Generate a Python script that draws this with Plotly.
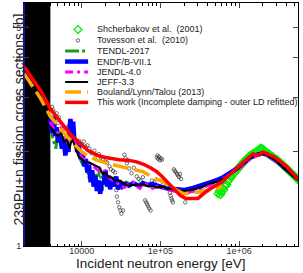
import plotly.graph_objects as go
import math

# ---------------- data ----------------
shch_E = [5.4e5, 5.6e5, 5.8e5, 6.0e5, 6.2e5, 6.4e5, 6.6e5, 6.8e5, 7.0e5, 7.2e5, 7.5e5, 7.8e5, 8.1e5, 8.4e5,
          8.7e5, 9.0e5, 9.4e5, 9.8e5, 1.02e6, 1.06e6, 1.10e6, 1.14e6, 1.18e6, 1.23e6, 1.28e6, 1.33e6, 1.38e6,
          1.44e6, 1.50e6, 1.56e6, 1.62e6, 1.68e6, 1.75e6, 1.82e6, 1.88e6, 1.95e6, 2.02e6, 2.09e6, 2.16e6,
          2.24e6, 2.32e6, 2.41e6, 2.50e6, 2.60e6, 2.70e6, 2.80e6, 2.92e6, 3.04e6, 3.16e6, 3.29e6, 3.42e6,
          3.56e6, 3.70e6, 3.85e6, 4.00e6, 4.16e6, 4.33e6, 4.50e6, 4.68e6, 4.87e6, 5.06e6, 5.26e6, 5.47e6, 5.6e6]
shch_S = [1.47, 1.50, 1.46, 1.49, 1.53, 1.51, 1.56, 1.58, 1.57, 1.61, 1.63, 1.66, 1.67, 1.70,
          1.71, 1.73, 1.75, 1.78, 1.79, 1.82, 1.83, 1.86, 1.87, 1.90, 1.91, 1.93, 1.95,
          1.96, 1.98, 1.97, 2.00, 2.01, 2.03, 2.04, 2.06, 2.05, 2.04, 2.02, 2.01,
          1.99, 1.98, 1.97, 1.95, 1.94, 1.93, 1.91, 1.90, 1.89, 1.87, 1.86, 1.84,
          1.82, 1.81, 1.79, 1.77, 1.76, 1.74, 1.72, 1.71, 1.69, 1.68, 1.66, 1.64, 1.63]

tov_E = [4200, 4350, 4500, 4650, 4800, 5000, 5150, 5500, 5700, 6100, 6600, 7200, 7700, 8000, 8600, 9300,
         10000, 10600, 11200, 11800, 12500, 13000, 13500, 14500, 15200, 16500, 17500, 18500, 20000, 21000,
         22500, 23500, 25000, 26500, 27500, 28000, 29000, 30000, 31000, 32000, 33500, 35000, 36000, 37500,
         38500, 40000, 43000, 46000, 50000, 53000, 56000, 60000, 64000, 66000, 68000, 70000, 72000, 75000,
         78000, 84000, 90000, 92000, 94000, 96000, 99000, 102000, 105000, 108000, 112000, 118000, 124000,
         132000, 135000, 138000, 141000, 144000, 148000, 153000, 158000, 163000, 168000, 173000, 178000,
         183000, 190000, 207000, 215000, 225000, 240000, 260000, 280000, 300000, 320000, 350000, 380000,
         420000, 460000]
tov_S = [2.79, 2.72, 2.62, 2.56, 2.66, 2.48, 2.58, 2.35, 2.42, 2.38, 2.40, 2.30, 2.25, 2.20, 2.15, 2.17,
         2.12, 2.16, 2.08, 2.10, 2.05, 2.00, 1.98, 2.02, 1.95, 1.97, 1.92, 1.90, 1.86, 1.85,
         1.80, 1.76, 1.74, 1.72, 1.51, 1.44, 1.38, 1.33, 1.30, 1.27, 1.30, 1.96, 1.91, 1.84,
         1.88, 1.77, 1.71, 1.78, 1.67, 1.64, 1.62, 1.66, 1.40, 1.38, 1.36, 1.34, 1.32, 1.30,
         1.62, 1.60, 1.92, 1.95, 1.90, 1.93, 1.88, 1.91, 1.89, 1.58, 1.62, 1.57, 1.55,
         1.48, 1.45, 1.42, 1.40, 1.38, 1.76, 1.74, 1.72, 1.70, 1.68, 1.66, 1.70,
         1.64, 1.50, 1.38, 1.52, 1.49, 1.53, 1.50, 1.54, 1.51, 1.55, 1.54, 1.57,
         1.56, 1.59]

tendl_E = [4000, 4300, 4700, 5000, 5400, 5800, 6200, 6700, 7200, 7700, 8200, 8800, 9500, 10000, 10700,
           11500, 12300, 13200, 14100, 15000, 16000, 17000, 18200, 19500, 21000, 22500, 24000, 26000,
           28000, 30000, 33000, 37000, 42000, 50000, 60000, 75000, 1e5, 1.3e5, 1.7e5, 2.2e5, 3e5, 4e5,
           5e5, 6e5, 7e5, 8.5e5, 1e6, 1.2e6, 1.4e6, 1.7e6, 2e6, 2.3e6, 2.7e6, 3.2e6, 3.8e6, 4.5e6, 5.6e6]
tendl_S = [2.45, 2.2, 2.05, 2.35, 2.1, 2.25, 2.05, 2.3, 2.2, 2.35, 2.1, 2.0, 1.9, 1.85, 1.8,
           1.9, 1.65, 1.75, 1.55, 1.7, 1.6, 1.78, 1.5, 1.72, 1.62, 1.68, 1.58, 1.66,
           1.6, 1.64, 1.58, 1.6, 1.57, 1.58, 1.57, 1.56, 1.54, 1.52, 1.51, 1.52, 1.54, 1.58,
           1.61, 1.65, 1.68, 1.73, 1.79, 1.86, 1.92, 1.96, 1.99, 1.96, 1.91, 1.85, 1.79, 1.72, 1.64]

endf_E = [4000, 4200, 4400, 4600, 4800, 5000, 5300, 5600, 5900, 6200, 6500, 6800, 7000, 7200, 7500,
          7800, 8100, 8400, 8800, 9200, 9700, 10200, 10800, 11300, 11800, 12400, 13000, 13600, 14200,
          14900, 15600, 16400, 17200, 18000, 19000, 20000, 21000, 22000, 23000, 24500, 26000, 27500,
          29000, 31000, 33000, 36000, 40000, 45000, 50000, 55000, 60000, 70000, 80000, 90000, 1e5,
          1.2e5, 1.5e5, 2e5, 2.5e5, 3e5, 4e5, 5e5, 6e5, 7e5, 8.5e5, 1e6, 1.2e6, 1.4e6, 1.7e6, 2e6,
          2.3e6, 2.7e6, 3.2e6, 3.8e6, 4.5e6, 5.6e6]
endf_S = [2.55, 2.3, 2.6, 2.25, 2.4, 2.15, 2.3, 2.05, 2.2, 1.95, 2.1, 2.0, 2.4, 2.55, 2.3,
          2.5, 2.15, 2.2, 2.0, 2.1, 1.9, 2.0, 1.8, 1.9, 1.72, 1.82, 1.6, 1.75, 1.55,
          1.68, 1.5, 1.62, 1.47, 1.6, 1.58, 1.75, 1.55, 1.68, 1.52, 1.65, 1.55, 1.67,
          1.52, 1.6, 1.55, 1.58, 1.56, 1.59, 1.57, 1.56, 1.59, 1.57, 1.58, 1.56, 1.55,
          1.53, 1.52, 1.51, 1.53, 1.55, 1.59, 1.62, 1.65, 1.69, 1.74, 1.79, 1.86, 1.92, 1.96, 1.98,
          1.96, 1.91, 1.85, 1.78, 1.72, 1.64]

jendl_E = [4000, 4500, 5000, 5500, 6000, 6500, 7000, 7500, 8000, 9000, 10000, 11000, 12500, 14000,
           16000, 18000, 20000, 22000, 25000, 28000, 31000, 35000, 40000, 45000, 50000, 55000, 62000,
           70000, 80000, 90000, 1e5, 1.2e5, 1.5e5, 1.8e5, 2.2e5, 2.8e5, 3.5e5, 4.5e5, 5.5e5, 7e5,
           8.5e5, 1e6, 1.2e6, 1.4e6, 1.7e6, 2e6, 2.3e6, 2.7e6, 3.2e6, 3.8e6, 4.5e6, 5.6e6]
jendl_S = [2.5, 2.35, 2.3, 2.4, 2.2, 2.25, 2.1, 2.25, 2.2, 2.0, 1.92, 1.88, 1.84, 1.8,
           1.75, 1.72, 1.74, 1.66, 1.62, 1.6, 1.55, 1.54, 1.58, 1.6, 1.55, 1.53, 1.6,
           1.56, 1.53, 1.55, 1.54, 1.52, 1.5, 1.48, 1.48, 1.51, 1.54, 1.58, 1.61, 1.67,
           1.72, 1.77, 1.84, 1.9, 1.95, 1.97, 1.95, 1.9, 1.84, 1.77, 1.71, 1.63]

jeff_E = [4000, 4500, 5000, 5500, 6000, 6500, 7000, 7500, 8200, 9000, 10000, 11000, 12500, 14000,
          15500, 17000, 18500, 20000, 22000, 24000, 26000, 28000, 30000, 33000, 36000, 40000, 45000,
          50000, 55000, 60000, 70000, 80000, 90000, 1e5, 1.2e5, 1.4e5, 1.7e5, 2e5, 2.5e5, 3e5, 3.5e5,
          4e5, 5e5, 6e5, 7e5, 8e5, 9e5, 1e6, 1.2e6, 1.4e6, 1.6e6, 1.8e6, 2e6, 2.2e6, 2.5e6, 3e6,
          3.5e6, 4e6, 4.5e6, 5e6, 5.6e6]
jeff_S = [2.42, 2.3, 2.25, 2.3, 2.15, 2.2, 2.05, 2.2, 2.1, 1.95, 1.9, 1.85, 1.85, 1.82,
          1.8, 1.78, 1.7, 1.72, 1.66, 1.66, 1.62, 1.62, 1.62, 1.6, 1.57, 1.56, 1.57,
          1.57, 1.56, 1.58, 1.55, 1.56, 1.54, 1.55, 1.53, 1.52, 1.5, 1.5, 1.51, 1.53, 1.55,
          1.58, 1.6, 1.63, 1.67, 1.7, 1.74, 1.78, 1.85, 1.92, 1.96, 1.97, 1.98, 1.96, 1.92, 1.87,
          1.8, 1.75, 1.7, 1.67, 1.62]

blt_E = [1850, 2500, 3000, 4000, 5000, 6000, 7000, 8500, 10000, 12500, 16000, 21000, 28000, 40000,
         60000, 80000, 1e5, 1.3e5, 1.6e5, 2e5, 2.6e5, 3.3e5, 4e5, 5e5, 6.1e5]
blt_S = [3.57, 3.2, 2.97, 2.6, 2.42, 2.3, 2.2, 2.08, 2.0, 1.93, 1.88, 1.84, 1.81, 1.78,
         1.73, 1.66, 1.62, 1.56, 1.51, 1.47, 1.48, 1.49, 1.5, 1.52, 1.55]

work_E = [1850, 2500, 3000, 4000, 5000, 6000, 7000, 8000, 10000, 12000, 16000, 20000, 30000, 40000,
          50000, 60000, 75000, 90000, 1.05e5, 1.25e5, 1.5e5, 1.8e5, 2.1e5, 3e5, 4e5, 5e5, 6e5, 7e5,
          8.5e5, 1e6, 1.2e6, 1.5e6, 1.75e6, 2.05e6, 2.4e6, 2.8e6, 3.3e6, 4e6, 4.8e6, 5.6e6]
work_S = [3.76, 3.38, 3.15, 2.75, 2.55, 2.42, 2.3, 2.22, 2.1, 2.02, 1.95, 1.92, 1.89, 1.88,
          1.86, 1.83, 1.78, 1.73, 1.67, 1.6, 1.52, 1.45, 1.42, 1.42, 1.51, 1.56, 1.6, 1.66,
          1.73, 1.8, 1.88, 1.97, 1.95, 2.0, 1.96, 1.93, 1.87, 1.8, 1.71, 1.63]

x_ticks = [1e4, 1e5, 1e6]
x_ticktext = ["10000", "1e+05", "1e+06"]
y_ticks = [1, 2, 3, 4, 5, 6]
black_band_end = 4000

# ---------------- styles ----------------
series = [
    dict(name="Shcherbakov et al.  (2001)", E=shch_E, S=shch_S, mode="markers",
         marker=dict(symbol="diamond-open", size=6, color="#00ee00", line=dict(width=1.3, color="#00ee00"))),
    dict(name="Tovesson et al.  (2010)", E=tov_E, S=tov_S, mode="markers",
         marker=dict(symbol="circle-open", size=3.5, color="#333333", line=dict(width=0.7, color="#333333"))),
    dict(name="TENDL-2017", E=tendl_E, S=tendl_S, mode="lines",
         line=dict(color="#1f9a1f", width=3, dash="14px,3px,3px,3px")),
    dict(name="ENDF/B-VII.1", E=endf_E, S=endf_S, mode="lines",
         line=dict(color="#0000ff", width=4.5)),
    dict(name="JENDL-4.0", E=jendl_E, S=jendl_S, mode="lines",
         line=dict(color="#ff00ff", width=3, dash="8px,4px,3px,4px")),
    dict(name="JEFF-3.3", E=jeff_E, S=jeff_S, mode="lines",
         line=dict(color="#000000", width=2)),
    dict(name="Bouland/Lynn/Talou (2013)", E=blt_E, S=blt_S, mode="lines",
         line=dict(color="#ffa500", width=3.5, dash="16px,6px")),
    dict(name="This work (Incomplete damping - outer LD refitted)", E=work_E, S=work_S, mode="lines",
         line=dict(color="#ff0000", width=3.5)),
]

fig = go.Figure()
for s in series:
    kw = dict(x=s["E"], y=s["S"], mode=s["mode"], name=s["name"], showlegend=False)
    if "marker" in s:
        kw["marker"] = s["marker"]
    if "line" in s:
        kw["line"] = s["line"]
    fig.add_trace(go.Scatter(**kw))

# ---------------- manual compact legend (overlay axes 0..1) ----------------
leg_rows = [0.891, 0.846, 0.802, 0.759, 0.716, 0.675, 0.634, 0.591]
lx0, lx1, lxm, ltx = 0.150, 0.234, 0.197, 0.259
for s, yy in zip(series, leg_rows):
    if s["mode"] == "markers":
        fig.add_trace(go.Scatter(x=[lxm], y=[yy], mode="markers", marker=s["marker"],
                                 xaxis="x2", yaxis="y2", showlegend=False, hoverinfo="skip"))
    else:
        fig.add_trace(go.Scatter(x=[lx0, lx1], y=[yy, yy], mode="lines", line=s["line"],
                                 xaxis="x2", yaxis="y2", showlegend=False, hoverinfo="skip"))
    fig.add_annotation(x=ltx, y=yy, xref="paper", yref="paper", text=s["name"], showarrow=False,
                       xanchor="left", yanchor="middle", font=dict(size=9, color="#222222"))

xr = [3.267, 6.749]
fig.add_shape(type="rect", xref="x", yref="paper", x0=10 ** xr[0], x1=black_band_end, y0=0, y1=1,
              fillcolor="black", line=dict(width=0), layer="below")
fig.add_shape(type="line", xref="paper", yref="paper", x0=0, x1=0, y0=0, y1=1,
              line=dict(color="#2020ff", width=1.2))

fig.add_annotation(x=-0.055, y=0.52, xref="paper", yref="paper", text="239Pu+n fission cross sections [b]",
                   textangle=-90, showarrow=False, font=dict(size=14, color="#222222"))
fig.add_annotation(x=0.5, y=-0.072, xref="paper", yref="paper", text="Incident neutron energy [eV]",
                   showarrow=False, yanchor="middle", font=dict(size=13.5, color="#222222"))

minor_vals = [m * 10 ** d for d in range(3, 7) for m in range(2, 10)]
fig.update_layout(
    width=303, height=273, margin=dict(l=24, r=5, t=3, b=27),
    paper_bgcolor="white", plot_bgcolor="white",
    font=dict(family="Liberation Sans, Arial, sans-serif"),
    xaxis=dict(type="log", range=xr, tickvals=x_ticks, ticktext=x_ticktext, ticks="inside", ticklen=5,
               showline=True, linecolor="black", linewidth=1, mirror="ticks", showgrid=False, zeroline=False,
               automargin=False, ticklabelstandoff=-4, tickfont=dict(size=9, color="#333333"),
               minor=dict(tickvals=minor_vals, ticks="inside", ticklen=2.5, tickcolor="black", showgrid=False)),
    yaxis=dict(type="log", range=[0, math.log10(6)], tickvals=y_ticks, ticks="inside", ticklen=5,
               showline=True, linecolor="black", linewidth=1, mirror="ticks", showgrid=False, zeroline=False,
               automargin=False, tickfont=dict(size=9, color="#333333")),
    xaxis2=dict(overlaying="x", range=[0, 1], visible=False, anchor="y2"),
    yaxis2=dict(overlaying="y", range=[0, 1], visible=False, anchor="x2"),
    showlegend=False,
)

fig.write_html("out.html", config={"displayModeBar": False, "staticPlot": True},
               post_script="document.body.style.margin='0px';")
